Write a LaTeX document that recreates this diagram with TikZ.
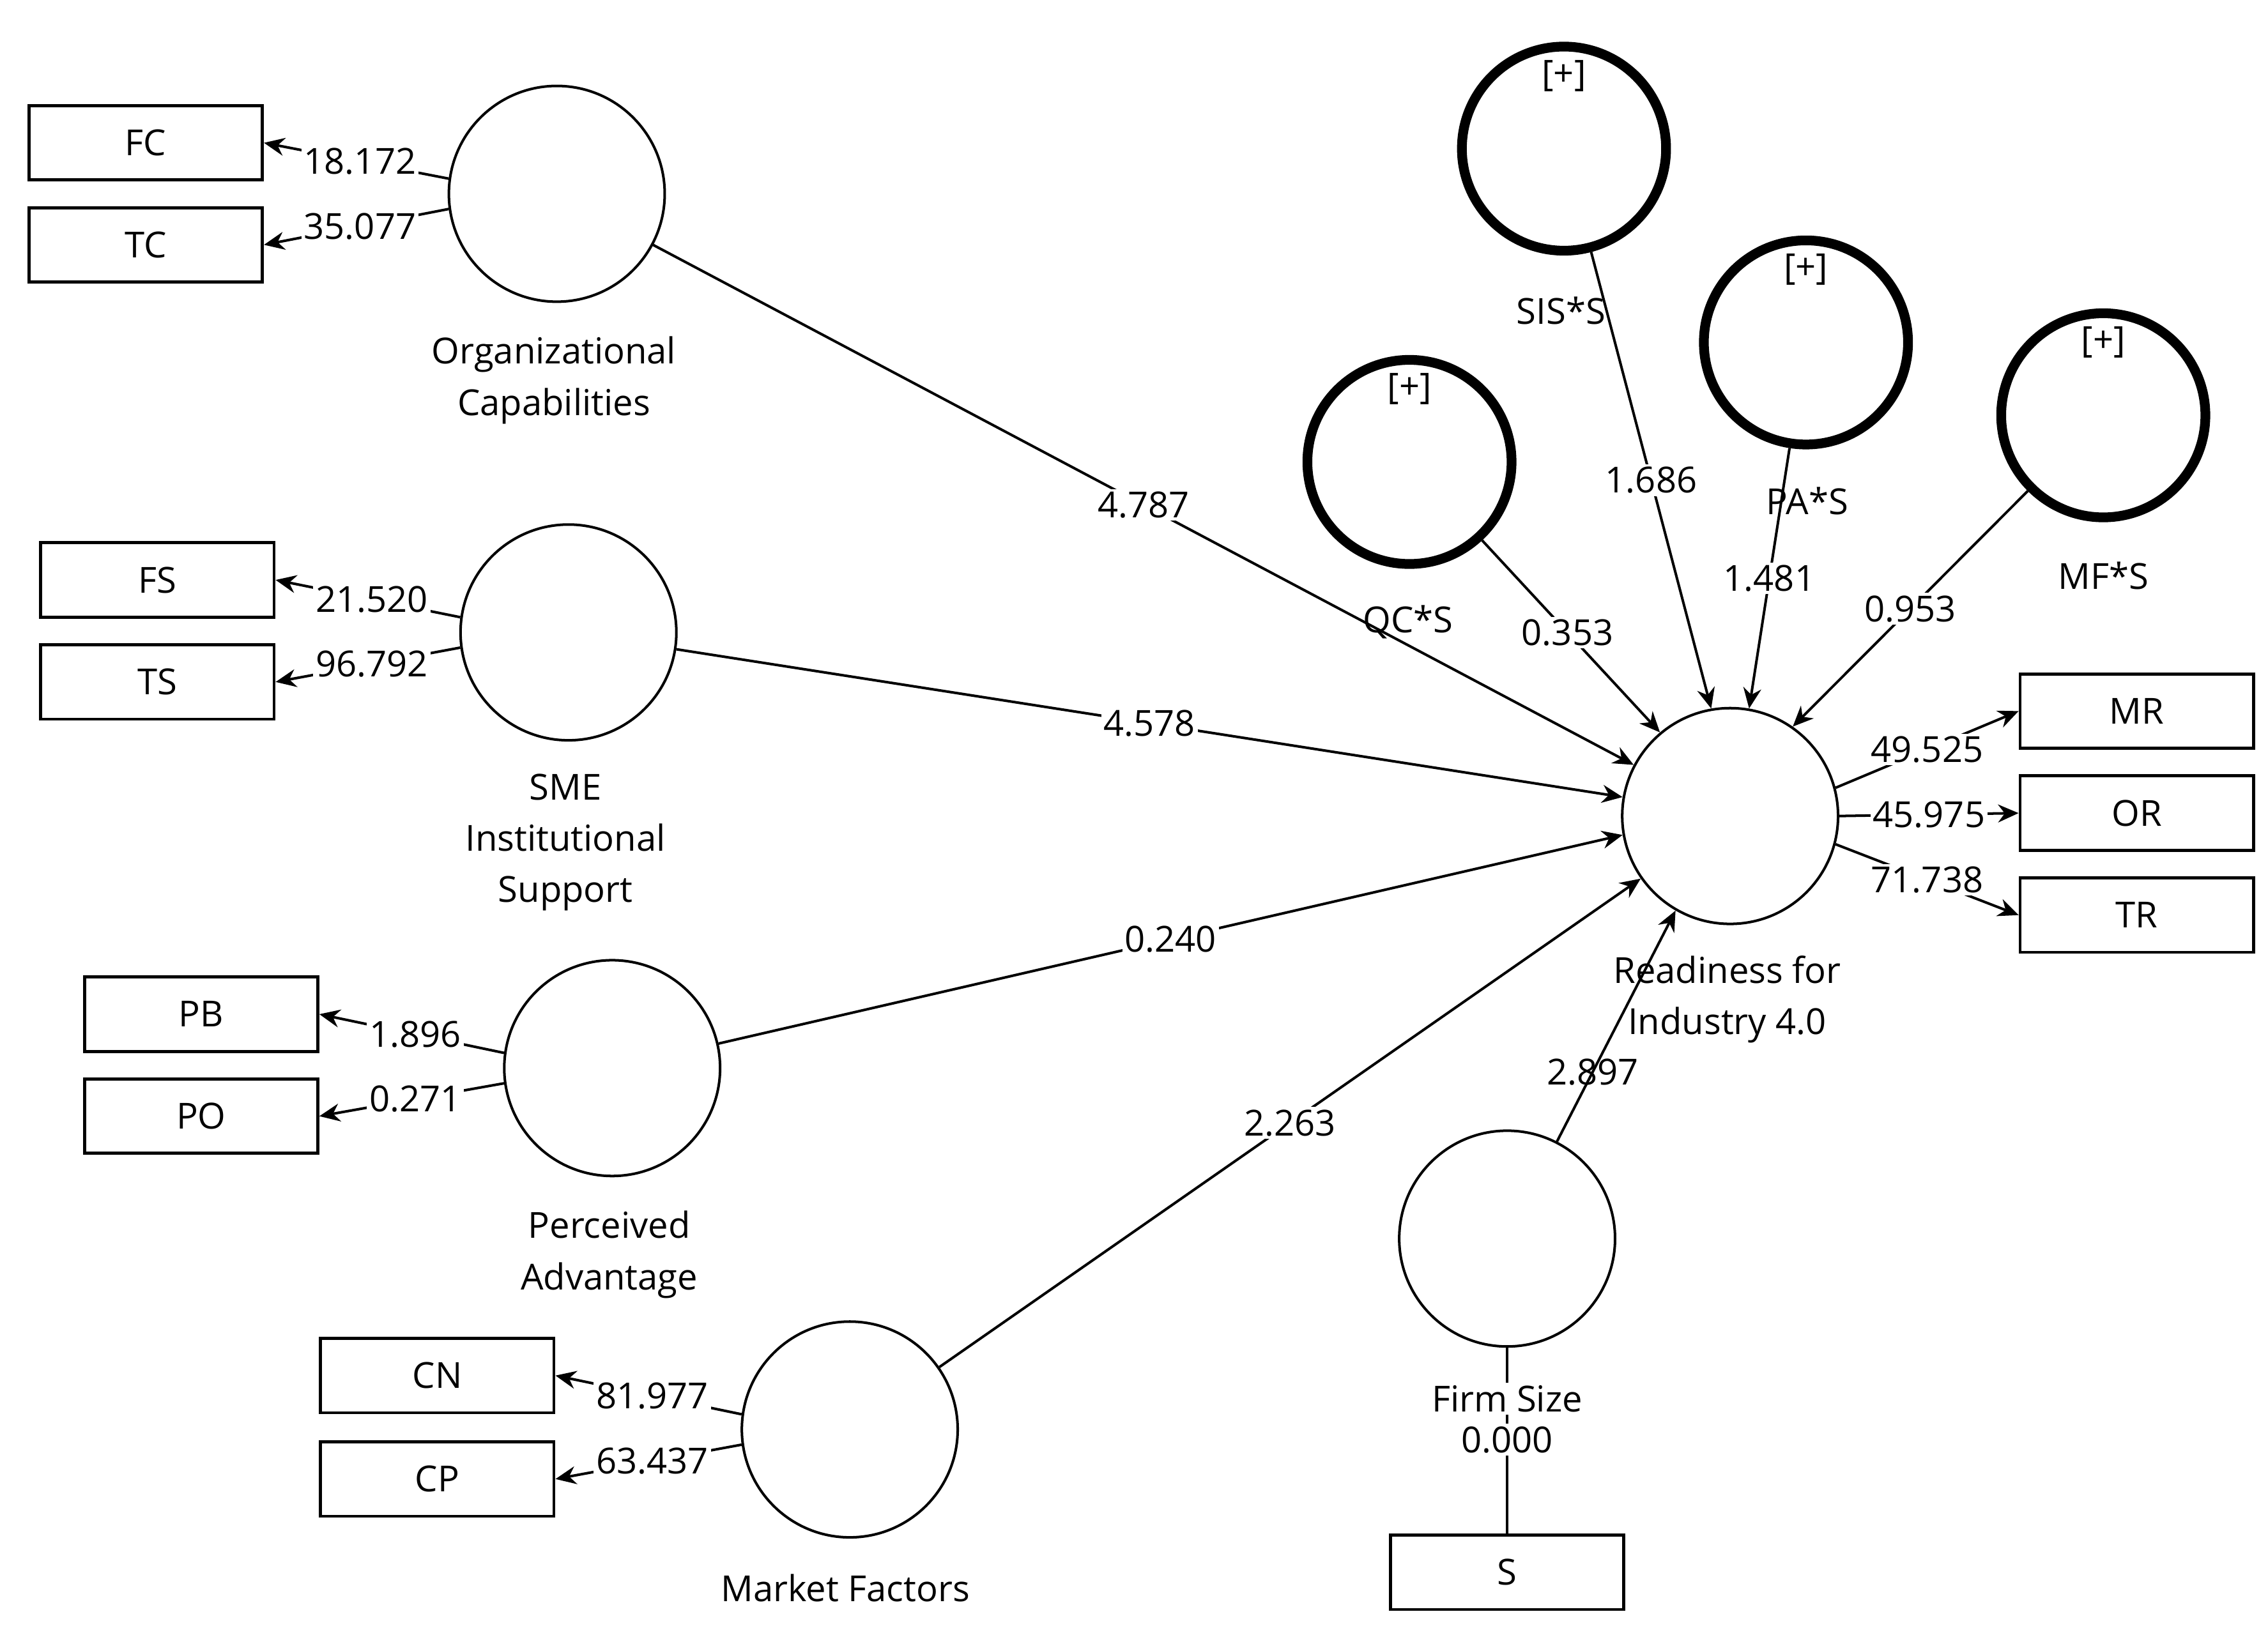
\documentclass[tikz,border=0pt]{standalone}
\usepackage{fontspec}
\setmainfont{Open Sans}
\usetikzlibrary{arrows.meta}
\begin{document}
\begin{tikzpicture}[x=0.01cm,y=-0.01cm,font=\fontsize{7}{8.5}\selectfont,
  lv/.style={circle,draw,line width=0.5pt,minimum size=1.48cm,inner sep=0pt},
  iv/.style={circle,draw,line width=1.9pt,minimum size=1.4cm,inner sep=0pt},
  box/.style={draw,line width=0.6pt,minimum width=1.6cm,minimum height=0.51cm,inner sep=0pt},
  ln/.style={line width=0.5pt},
  ar/.style={line width=0.5pt,-{Stealth[length=4pt,width=3.5pt]}},
  lab/.style={fill=white,inner sep=0.5pt},
  nm/.style={align=center,font=\fontsize{7}{10}\selectfont}]
\useasboundingbox (0,0) rectangle (1556,1117);
\node[lv] (oc) at (382,133) {};
\node[lv] (sme) at (390,434) {};
\node[lv] (pa) at (420,733) {};
\node[lv] (mf) at (583,981) {};
\node[lv] (rd) at (1187,560) {};
\node[lv] (fs) at (1034,850) {};
\node[iv] (qc) at (967,317) {};
\node[iv] (sis) at (1073,102) {};
\node[iv] (pas) at (1239,235) {};
\node[iv] (mfs) at (1443,285) {};
\foreach \c/\x/\y in {qc/967/317,sis/1073/102,pas/1239/235,mfs/1443/285}
  \node (p\c) at (\x,\y-50) {[+]};
\node[box] (FC) at (100,98) {FC};
\node[box] (TC) at (100,168) {TC};
\node[box] (FS) at (108,398) {FS};
\node[box] (TS) at (108,468) {TS};
\node[box] (PB) at (138,696) {PB};
\node[box] (PO) at (138,766) {PO};
\node[box] (CN) at (300,944) {CN};
\node[box] (CP) at (300,1015) {CP};
\node[box] (MR) at (1466,488) {MR};
\node[box] (OR) at (1466,558) {OR};
\node[box] (TR) at (1466,628) {TR};
\node[box] (S) at (1034,1079) {S};
% names
\node[nm] (noc) at (380,261) {Organizational\\Capabilities};
\node[nm] (nsme) at (388,578) {SME\\Institutional\\Support};
\node[nm] (npa) at (418,861) {Perceived\\Advantage};
\node[nm] (nmf) at (580,1090) {Market Factors};
\node[nm] (nrd) at (1185,686) {Readiness for\\Industry 4.0};
\node[nm] (nqc) at (966,427) {QC*S};
\node[nm] (nsis) at (1071,213) {SIS*S};
\node[nm] (npas) at (1240,344) {PA*S};
\node[nm] (nmfs) at (1443,395) {MF*S};
% indicators
\draw[ar] (oc.172) -- (FC.east) node[lab,pos=0.48] {18.172};
\draw[ar] (oc.188) -- (TC.east) node[lab,pos=0.48] {35.077};
\draw[ar] (sme.172) -- (FS.east) node[lab,pos=0.48] {21.520};
\draw[ar] (sme.188) -- (TS.east) node[lab,pos=0.48] {96.792};
\draw[ar] (pa.172) -- (PB.east) node[lab,pos=0.48] {1.896};
\draw[ar] (pa.188) -- (PO.east) node[lab,pos=0.48] {0.271};
\draw[ar] (mf.172) -- (CN.east) node[lab,pos=0.48] {81.977};
\draw[ar] (mf.188) -- (CP.east) node[lab,pos=0.48] {63.437};
\draw[ar] (rd.15) -- (MR.west) node[lab,pos=0.5] {49.525};
\draw[ar] (rd.0) -- (OR.west) node[lab,pos=0.5] {45.975};
\draw[ar] (rd.-15) -- (TR.west) node[lab,pos=0.5] {71.738};
% paths
\draw[ar] (oc) -- (rd) node[lab,pos=0.5] {4.787};
\draw[ar] (sme) -- (rd.170) node[lab,pos=0.5] {4.578};
\draw[ar] (pa) -- (rd.190) node[lab,pos=0.5] {0.240};
\draw[ar] (mf) -- (rd.215) node[lab,pos=0.5] {2.263};
\draw[ar] (fs) -- (rd.240) node[lab,pos=0.3,fill=none] {2.897};
\draw[ar] (qc) -- (rd.130) node[lab,pos=0.48] {0.353};
\draw[ar] (sis) -- (rd.100) node[lab,pos=0.5] {1.686};
\draw[ar] (pas) -- (rd.80) node[lab,pos=0.5] {1.481};
\draw[ar] (mfs) -- (rd.55) node[lab,pos=0.5] {0.953};
\draw[ln] (fs) -- (S);
\node[nm,fill=white,inner sep=0.5pt] (nfs) at (1034,960) {Firm Size};
\node[fill=white,inner sep=0.5pt] (z) at (1034,988) {0.000};
\end{tikzpicture}
\end{document}
